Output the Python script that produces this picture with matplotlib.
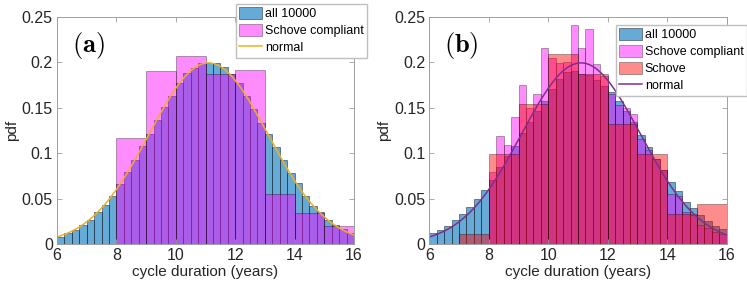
import numpy as np
import matplotlib
matplotlib.use("Agg")
import matplotlib.pyplot as plt
from matplotlib.ticker import FixedLocator, FixedFormatter

plt.rcParams['font.family'] = ['Liberation Sans', 'DejaVu Sans']
plt.rcParams['mathtext.fontset'] = 'cm'

# ---------------- data ----------------
fine_edges = np.arange(6, 16.001, 0.25)          # 0.25-year bins 6..16
fine_edges_b_sc = np.arange(8, 16.001, 0.25)     # 0.25-year bins 8..16
coarse_edges_a = np.arange(8, 16.001, 1.0)       # 1-year bins 8..16
coarse_edges_b = np.arange(7, 16.001, 1.0)       # 1-year bins 7..16

# panel (a)
all_a = [0.0081, 0.0117, 0.0158, 0.0210, 0.0269, 0.0354, 0.0435, 0.0534,
         0.0656, 0.0789, 0.0925, 0.1076, 0.1210, 0.1364, 0.1510, 0.1630,
         0.1770, 0.1880, 0.1940, 0.1990, 0.1990, 0.1990, 0.1950, 0.1870,
         0.1770, 0.1630, 0.1490, 0.1330, 0.1206, 0.1065, 0.0920, 0.0785,
         0.0675, 0.0527, 0.0416, 0.0350, 0.0269, 0.0205, 0.0165, 0.0117]
schove_compliant_a = [0.117, 0.191, 0.207, 0.187, 0.192, 0.055, 0.034, 0.020]

# panel (b)
all_b = [0.0122, 0.0150, 0.0202, 0.0265, 0.0335, 0.0405, 0.0494, 0.0590,
         0.070, 0.085, 0.097, 0.108, 0.122, 0.134, 0.146, 0.157,
         0.171, 0.182, 0.189, 0.191, 0.187, 0.186, 0.181, 0.174,
         0.167, 0.157, 0.147, 0.134, 0.120, 0.107, 0.094, 0.081,
         0.068, 0.058, 0.046, 0.040, 0.032, 0.025, 0.020, 0.016]
schove_compliant_b = [0.079, 0.119, 0.109, 0.140, 0.175, 0.150, 0.165, 0.216,
                      0.205, 0.199, 0.200, 0.241, 0.216, 0.237, 0.198, 0.185,
                      0.165, 0.153, 0.150, 0.143, 0.116, 0.103, 0.094, 0.081,
                      0.055, 0.053, 0.035, 0.032, 0.021, 0.018, 0.013, 0.011]
schove_b = [0.011, 0.0995, 0.1537, 0.209, 0.187, 0.132, 0.0995, 0.033, 0.044]

# normal fit parameters
mu, sigma = 11.1, 2.0

xticks = [6, 8, 10, 12, 14, 16]
yticks = [0, 0.05, 0.1, 0.15, 0.2, 0.25]
yticklabels = ['0', '0.05', '0.1', '0.15', '0.2', '0.25']

# ---------------- styles ----------------
BLUE = (0.0, 0.447, 0.741)
MAGENTA = (1.0, 0.0, 1.0)
RED = (1.0, 0.0, 0.0)
ORANGE = (0.929, 0.694, 0.125)
PURPLE = (0.494, 0.184, 0.556)
EDGE = (0.0, 0.0, 0.0)
TXT = (0.15, 0.15, 0.15)
SPINE = (0.62, 0.62, 0.62)


def hist_bars(ax, edges, vals, color, alpha, label):
    edges = np.asarray(edges)
    return ax.bar(edges[:-1], vals, width=np.diff(edges), align='edge',
                  color=color, alpha=alpha, edgecolor=EDGE, linewidth=0.5,
                  label=label)


def style_axes(ax):
    ax.set_xlim(6, 16)
    ax.set_ylim(0, 0.25)
    ax.xaxis.set_major_locator(FixedLocator(xticks))
    ax.set_xticklabels([str(t) for t in xticks])
    ax.yaxis.set_major_locator(FixedLocator(yticks))
    ax.yaxis.set_major_formatter(FixedFormatter(yticklabels))
    ax.tick_params(direction='in', length=3.5, width=0.6, color=SPINE,
                   labelcolor=TXT, labelsize=11.5, top=True, right=True, pad=3)
    for s in ax.spines.values():
        s.set_color(SPINE)
        s.set_linewidth(0.7)
    ax.set_xlabel('cycle duration (years)', fontsize=11, color=TXT, labelpad=1)
    ax.set_ylabel('pdf', fontsize=11, color=TXT, labelpad=2)


def add_legend(ax, handles, anchor, loc):
    ax.legend(handles=handles, loc=loc, bbox_to_anchor=anchor,
              bbox_transform=fig.transFigure, fontsize=9, frameon=True,
              fancybox=False, edgecolor=(0.75, 0.75, 0.75), framealpha=1,
              borderaxespad=0, borderpad=0.25, labelspacing=0.3,
              handlelength=1.8, handleheight=1.1, handletextpad=0.25)


fig = plt.figure(figsize=(7.47, 2.87), dpi=100)
axA = fig.add_axes([57 / 747, 43 / 287, 297 / 747, 227 / 287])
axB = fig.add_axes([429.3 / 747, 43 / 287, 297.4 / 747, 227 / 287])

xs = np.linspace(6, 16, 400)
pdf = np.exp(-0.5 * ((xs - mu) / sigma) ** 2) / (sigma * np.sqrt(2 * np.pi))

# panel (a)
h1 = hist_bars(axA, fine_edges, all_a, BLUE, 0.6, 'all 10000')
h2 = hist_bars(axA, coarse_edges_a, schove_compliant_a, MAGENTA, 0.45, 'Schove compliant')
h3, = axA.plot(xs, pdf, color=ORANGE, lw=1.1, label='normal')
style_axes(axA)
axA.text(6.5, 0.219, r'$\mathbf{(a)}$', fontsize=19, va='center', ha='left')
add_legend(axA, [h1, h2, h3], (367 / 747, 1 - 4 / 287), 'upper right')

# panel (b)
g1 = hist_bars(axB, fine_edges, all_b, BLUE, 0.6, 'all 10000')
g2 = hist_bars(axB, fine_edges_b_sc, schove_compliant_b, MAGENTA, 0.45, 'Schove compliant')
g3 = hist_bars(axB, coarse_edges_b, schove_b, RED, 0.45, 'Schove')
g4, = axB.plot(xs, pdf, color=PURPLE, lw=1.1, label='normal')
style_axes(axB)
axB.text(6.5, 0.219, r'$\mathbf{(b)}$', fontsize=19, va='center', ha='left')
add_legend(axB, [g1, g2, g3, g4], (616 / 747, 1 - 25 / 287), 'upper left')

fig.savefig('out.png', dpi=100)
